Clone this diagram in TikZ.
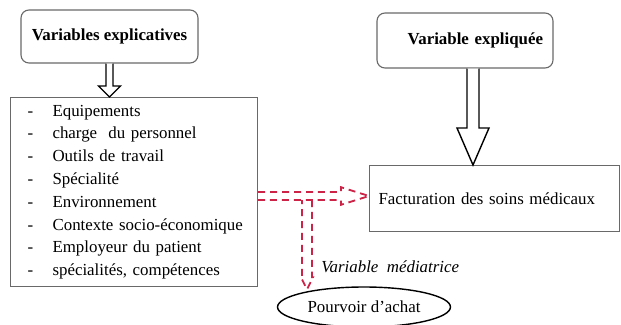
\documentclass[tikz,border=0pt]{standalone}
\usepackage{fontspec}
\setmainfont{Liberation Serif}
\usetikzlibrary{shapes.geometric, calc}
\definecolor{boxgray}{RGB}{105,105,105}
\definecolor{dashred}{RGB}{205,35,70}

\newcommand{\itemdash}{\makebox[0.75cm][l]{\hspace{0.125cm}-}}

% outline block arrow: style, from, to, shaft half width, head half width, head length
\newcommand{\blockarrow}[6]{%
  \path ($(#3)!#6!(#2)$) coordinate (ba-h);
  \draw[#1] ($(#2)!#4!90:(#3)$) -- ($(ba-h)!#4!90:(#3)$) -- ($(ba-h)!#5!90:(#3)$) -- (#3)
    -- ($(ba-h)!#5!-90:(#3)$) -- ($(ba-h)!#4!-90:(#3)$) -- ($(#2)!#4!-90:(#3)$);
}

\begin{document}
\begin{tikzpicture}[
    x=0.025cm, y=-0.025cm,
    title/.style={rectangle, draw=boxgray, line width=0.8pt, rounded corners=0.2cm, font=\fontsize{12}{14}\selectfont\bfseries},
    box/.style={rectangle, draw=boxgray, line width=0.8pt, align=left, font=\fontsize{12}{16.2}\selectfont},
    hollow/.style={draw=black, line width=1pt, fill=white},
    mediator/.style={draw=dashred, line width=1.3pt, dash pattern=on 5pt off 3.5pt}
]
\useasboundingbox (0,0) rectangle (621,324);

\node[title, minimum width=4.425cm, minimum height=1.325cm] (expl) at (109.5,36.5) {Variables explicatives};
\node[box, anchor=north west, text width=5.575cm, inner xsep=0.3cm, minimum height=4.725cm] (facteurs) at (10,97) {%
  \itemdash Equipements\\
  \itemdash charge\ \ du personnel\\
  \itemdash Outils de travail\\
  \itemdash Spécialité\\
  \itemdash Environnement\\
  \itemdash Contexte socio-économique\\
  \itemdash Employeur du patient\\
  \itemdash spécialités, compétences};

\node[title, minimum width=4.4cm, minimum height=1.375cm, text width=3.9cm, inner xsep=0.25cm, align=right] (expl2) at (465,40.5) {Variable expliquée};
\node[box, anchor=north west, text width=5.8cm, inner xsep=0.225cm, minimum height=1.65cm] (fact) at (369,165) {Facturation des soins médicaux};

\node[ellipse, draw, line width=1pt, minimum width=4.275cm, minimum height=1cm, font=\fontsize{12}{14}\selectfont] (achat) at (364,307) {Pourvoir d’achat};
\node[anchor=west, inner sep=0, font=\fontsize{12}{14}\selectfont\itshape] (media) at (321,267) {Variable\ \ médiatrice};

% hollow arrows
\coordinate (a1) at (expl.south |- facteurs.north);
\coordinate (b0) at ($(expl2.south)+(8,0)$);
\coordinate (b1) at (b0 |- fact.north);
\blockarrow{hollow}{expl.south}{a1}{0.0875cm}{0.275cm}{0.275cm}
\blockarrow{hollow}{b0}{b1}{0.15cm}{0.4cm}{0.925cm}

% mediating variable
\coordinate (m) at (307,196);
\coordinate (h0) at (facteurs.east |- m);
\coordinate (h1) at (fact.west |- m);
\coordinate (v0) at ($(m)+(0,4)$);
\coordinate (v1) at ($(m |- achat.north)+(0,3)$);
\blockarrow{mediator}{h0}{h1}{0.1cm}{0.22cm}{0.7cm}
\blockarrow{mediator}{v0}{v1}{0.125cm}{0.15cm}{0.3cm}

\end{tikzpicture}
\end{document}
